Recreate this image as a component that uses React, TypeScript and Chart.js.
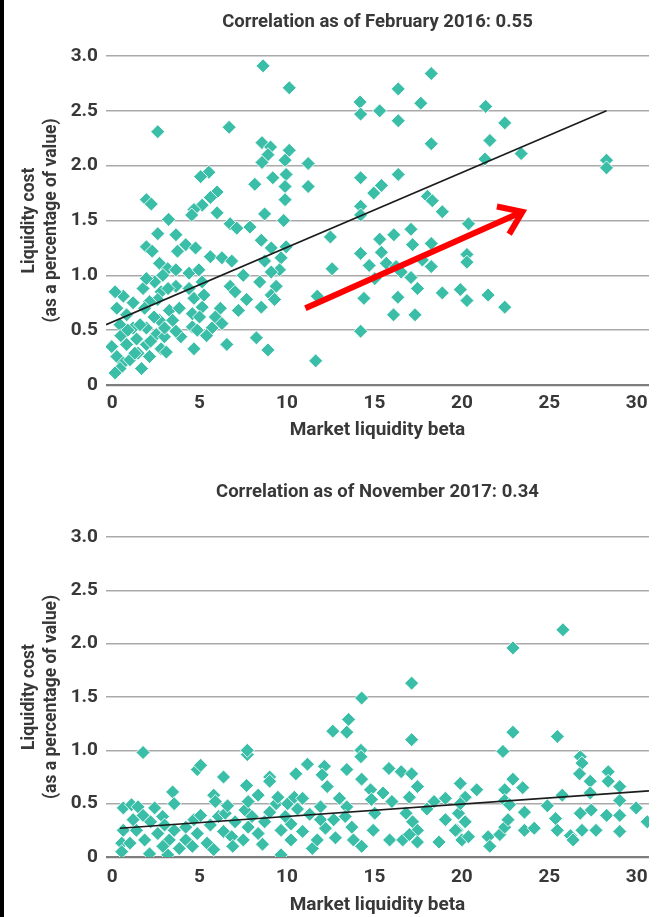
import React, { useEffect, useRef } from "react";
import { Chart, registerables } from "chart.js";

Chart.register(...registerables);

const FONT = "Roboto, 'Liberation Sans', sans-serif";
const TEXT = "#383838";
const TEAL = "#3abea7";

const TITLE_2016 = "Correlation as of February 2016: 0.55";
const TITLE_2017 = "Correlation as of November 2017: 0.34";
const X_TITLE = "Market liquidity beta";
const Y_TITLE = ["Liquidity cost", "(as a percentage of value)"];

const X_RANGE = [-0.35, 30.7];
const X_STEP = 5;
const Y_TICKS = [0, 0.5, 1, 1.5, 2, 2.5, 3];
const Y_TICK_LABELS = ["0", "0.5", "1.0", "1.5", "2.0", "2.5", "3.0"];

// February 2016: [market liquidity beta, liquidity cost]
const FEB16_POINTS: number[][] = [
  [8.63, 2.91], [10.13, 2.71], [2.61, 2.31], [6.69, 2.35], [8.57, 2.21], [9.06, 2.17], [10.13, 2.14],
  [8.91, 2.1], [8.57, 2.03], [9.89, 2.05], [5.53, 1.94], [5.06, 1.9], [9.19, 1.89], [9.95, 1.92],
  [8.16, 1.83], [9.89, 1.81], [6.0, 1.76], [5.62, 1.71], [9.89, 1.69], [1.96, 1.69], [2.24, 1.65],
  [5.15, 1.64], [4.68, 1.6], [4.55, 1.55], [3.23, 1.51], [6.0, 1.57], [8.72, 1.56], [9.81, 1.5],
  [6.75, 1.47], [7.88, 1.44],
  [2.61, 1.38], [3.65, 1.37], [1.96, 1.26], [2.29, 1.22], [3.74, 1.22], [4.21, 1.28], [4.77, 1.25],
  [2.71, 1.11], [3.18, 1.06], [3.65, 1.05], [4.4, 1.02], [4.96, 1.05], [5.62, 1.17], [6.28, 1.16],
  [6.84, 1.13], [7.13, 1.43], [8.53, 1.32], [9.1, 1.25], [9.95, 1.26], [9.66, 1.16], [9.57, 1.05],
  [8.72, 1.13], [9.1, 1.03], [7.5, 1.0], [8.44, 0.94], [9.38, 0.9], [9.1, 0.82], [8.53, 0.71],
  [9.29, 0.78], [6.75, 0.9], [7.03, 0.85], [7.69, 0.78], [7.22, 0.68], [6.19, 0.7], [5.9, 0.62],
  [5.71, 0.52], [6.28, 0.56], [6.56, 0.37], [8.25, 0.43], [8.91, 0.32], [4.68, 0.33], [4.59, 0.53],
  [4.87, 0.5], [3.93, 0.44], [3.65, 0.49], [4.68, 0.79], [4.59, 0.65], [5.15, 0.71], [5.25, 0.82],
  [4.4, 0.88], [5.15, 0.94], [3.65, 0.9], [3.27, 0.68], [2.8, 0.85], [2.43, 0.94], [1.77, 0.88],
  [1.96, 0.97], [2.61, 0.78], [2.14, 0.76], [1.86, 0.7], [1.2, 0.75], [0.64, 0.81], [0.17, 0.85],
  [0.27, 0.7], [0.83, 0.64], [0.45, 0.55], [1.2, 0.52], [1.96, 0.52], [2.71, 0.59], [2.52, 0.46],
  [2.8, 0.33], [1.96, 0.37], [2.14, 0.26], [1.48, 0.29], [0.83, 0.37], [-0.02, 0.35], [0.27, 0.26],
  [0.64, 0.2], [0.45, 0.15], [0.17, 0.11], [1.02, 0.23], [1.68, 0.15], [1.3, 0.29], [2.99, 0.44],
  [3.46, 0.59], [3.84, 0.7], [1.4, 0.42], [2.4, 0.62], [3.1, 0.3], [0.5, 0.45], [1.6, 0.55],
  [3.2, 0.88], [2.9, 1.0], [5.4, 0.45], [5.0, 0.62], [2.2, 0.4], [0.9, 0.5], [3.0, 0.52],
  [18.25, 2.84], [16.36, 2.7], [14.18, 2.58], [17.65, 2.57], [14.21, 2.47], [15.3, 2.5], [16.36, 2.41],
  [21.36, 2.54], [22.45, 2.39], [21.6, 2.23], [18.25, 2.2], [21.32, 2.06], [23.39, 2.11], [28.27, 2.05],
  [28.27, 1.98], [11.21, 2.02], [11.21, 1.81], [14.21, 1.89], [16.36, 1.92], [15.4, 1.82], [14.96, 1.75],
  [18.03, 1.72], [18.31, 1.68], [18.88, 1.58], [14.21, 1.63], [14.21, 1.55], [17.09, 1.42],
  [12.48, 1.35], [12.58, 1.06], [11.73, 0.81], [11.64, 0.22], [14.21, 0.49], [14.4, 0.79], [14.21, 1.2],
  [14.7, 1.09], [15.3, 1.33], [15.4, 1.21], [16.11, 1.37], [17.18, 1.28], [18.25, 1.29], [15.68, 1.11],
  [16.24, 1.08], [16.53, 1.03], [17.09, 0.98], [17.46, 0.88], [18.25, 1.08], [17.74, 1.14], [15.02, 0.97],
  [16.34, 0.8], [16.09, 0.64], [17.32, 0.64], [18.88, 0.84], [19.91, 0.87], [20.29, 0.77], [20.29, 1.19],
  [20.29, 1.12], [21.5, 0.82], [22.45, 0.71], [20.38, 1.47],
];

// November 2017: [market liquidity beta, liquidity cost]
const NOV17_POINTS: number[][] = [
  [1.77, 0.98], [7.73, 0.96], [7.73, 1.0], [4.87, 0.82], [5.06, 0.86], [6.37, 0.75], [7.69, 0.67],
  [8.35, 0.58], [9.01, 0.75], [9.01, 0.71], [3.46, 0.61], [3.55, 0.5], [5.81, 0.58], [5.9, 0.52],
  [0.64, 0.46], [1.11, 0.49], [1.48, 0.47], [2.43, 0.46], [1.77, 0.39], [2.89, 0.38], [0.64, 0.25],
  [1.39, 0.25], [0.55, 0.13], [1.02, 0.13], [0.55, 0.05], [2.14, 0.03], [3.18, 0.02], [1.86, 0.16],
  [2.61, 0.22], [3.27, 0.16], [3.84, 0.08], [4.21, 0.16], [3.55, 0.25], [4.21, 0.28], [4.68, 0.35],
  [5.06, 0.39], [4.87, 0.22], [4.59, 0.1], [5.43, 0.13], [5.81, 0.07], [5.62, 0.3], [6.09, 0.38],
  [6.47, 0.41], [6.37, 0.24], [6.84, 0.19], [7.03, 0.33], [7.6, 0.44], [7.78, 0.52], [7.5, 0.16],
  [7.78, 0.28], [8.35, 0.22], [8.72, 0.33], [9.01, 0.42], [9.38, 0.5], [2.2, 0.33], [3.0, 0.3],
  [1.2, 0.35], [6.6, 0.48], [8.0, 0.38], [2.9, 0.1], [6.9, 0.1], [8.6, 0.12],
  [17.13, 1.63], [14.27, 1.49], [13.52, 1.29], [12.62, 1.18], [13.42, 1.17], [17.13, 1.1], [14.23, 1.0],
  [14.23, 0.94], [11.17, 0.87], [10.51, 0.78], [12.14, 0.85], [12.01, 0.77], [13.42, 0.82], [14.27, 0.73],
  [15.83, 0.83], [16.53, 0.8], [17.13, 0.78], [17.46, 0.66], [12.3, 0.66], [14.78, 0.63], [15.49, 0.6],
  [14.83, 0.54], [17.0, 0.56], [18.41, 0.52], [19.06, 0.55], [19.91, 0.69], [13.42, 0.47], [11.92, 0.47],
  [9.48, 0.56], [10.04, 0.5], [10.42, 0.56], [10.89, 0.55], [10.23, 0.31], [10.89, 0.24], [9.66, 0.25],
  [9.66, 0.02], [10.23, 0.16], [11.45, 0.08], [11.73, 0.16], [12.2, 0.27], [11.92, 0.35], [12.67, 0.35],
  [12.77, 0.18], [13.33, 0.38], [13.71, 0.28], [13.8, 0.16], [14.27, 0.1], [15.02, 0.41], [14.93, 0.25],
  [15.87, 0.16], [16.62, 0.16], [16.81, 0.41], [17.18, 0.33], [17.46, 0.25], [17.46, 0.14], [17.0, 0.21],
  [18.69, 0.14], [19.06, 0.35], [19.81, 0.41], [19.72, 0.25], [20.0, 0.16], [10.6, 0.45], [11.3, 0.4],
  [9.9, 0.38], [13.0, 0.55], [16.0, 0.52], [18.0, 0.45],
  [25.78, 2.13], [22.92, 1.96], [22.92, 1.17], [25.46, 1.13], [22.35, 0.99], [26.77, 0.94], [26.87, 0.88],
  [26.73, 0.78], [28.37, 0.8], [28.37, 0.71], [27.34, 0.71], [29.03, 0.66], [20.85, 0.63], [22.92, 0.73],
  [22.45, 0.63], [23.48, 0.65], [22.45, 0.53], [20.19, 0.56], [19.91, 0.5], [22.73, 0.49], [23.58, 0.42],
  [24.89, 0.48], [25.74, 0.58], [27.34, 0.6], [29.03, 0.53], [29.97, 0.46], [30.6, 0.33], [26.77, 0.41],
  [27.4, 0.44], [28.28, 0.39], [29.03, 0.39], [25.36, 0.36], [20.19, 0.33], [19.63, 0.25], [20.38, 0.19],
  [21.5, 0.19], [21.6, 0.1], [22.17, 0.21], [22.45, 0.28], [22.64, 0.35], [23.58, 0.25], [24.14, 0.27],
  [25.46, 0.25], [26.21, 0.2], [26.36, 0.16], [26.87, 0.25], [27.67, 0.25], [29.03, 0.24],
];

// Fitted trend lines (endpoints)
const FEB16_FIT: number[][] = [[-0.35, 0.55], [28.27, 2.5]];
const NOV17_FIT: number[][] = [[0.45, 0.27], [30.7, 0.62]];

// Red annotation arrow (tail, head) in data units
const FEB16_ARROW: number[][] = [[11.05, 0.7], [23.46, 1.58]];

type PanelProps = {
  title: string;
  points: number[][];
  fit: number[][];
  arrow?: number[][];
  height: number;
  plotTop: number;
  plotBottom: number;
  tickPad: number;
  xTitlePad: number;
};

function Panel(props: PanelProps) {
  const ref = useRef<HTMLCanvasElement>(null);
  useEffect(() => {
    const { title, points, fit, arrow, height, plotTop, plotBottom, tickPad, xTitlePad } = props;
    const titleSize = 18.5;
    const titleLH = 1.2;
    const titleTopPad = 11;
    const titleBottomPad = plotTop - titleTopPad - titleSize * titleLH;

    const arrowPlugin = {
      id: "arrowAnnotation",
      afterDatasetsDraw(chart: any) {
        if (!arrow) return;
        const { ctx, scales } = chart;
        const xs = scales.x, ys = scales.y;
        const x0 = xs.getPixelForValue(arrow[0][0]);
        const y0 = ys.getPixelForValue(arrow[0][1]);
        const x1 = xs.getPixelForValue(arrow[1][0]);
        const y1 = ys.getPixelForValue(arrow[1][1]);
        const ang = Math.atan2(y1 - y0, x1 - x0);
        ctx.save();
        ctx.strokeStyle = "#ff0000";
        ctx.lineWidth = 6;
        ctx.lineCap = "butt";
        ctx.lineJoin = "miter";
        ctx.beginPath();
        ctx.moveTo(x0, y0);
        ctx.lineTo(x1 - 2 * Math.cos(ang), y1 - 2 * Math.sin(ang));
        ctx.stroke();
        const L = 26, spread = 0.62;
        ctx.beginPath();
        ctx.moveTo(x1 - L * Math.cos(ang - spread), y1 - L * Math.sin(ang - spread));
        ctx.lineTo(x1, y1);
        ctx.lineTo(x1 - L * Math.cos(ang + spread), y1 - L * Math.sin(ang + spread));
        ctx.stroke();
        ctx.restore();
      },
    };

    const chart = new Chart(ref.current as HTMLCanvasElement, {
      type: "scatter",
      data: {
        datasets: [
          {
            type: "line",
            data: fit.map(([x, y]) => ({ x, y })),
            borderColor: "#1c1c1c",
            borderWidth: 1.6,
            pointRadius: 0,
            order: 0,
          } as any,
          {
            type: "scatter",
            data: points.map(([x, y]) => ({ x, y })),
            pointStyle: "rectRot",
            pointRadius: 7,
            backgroundColor: TEAL,
            borderColor: "rgba(255,255,255,0.85)",
            borderWidth: 1,
            order: 1,
          } as any,
        ],
      },
      options: {
        responsive: false,
        animation: false,
        devicePixelRatio: 1,
        events: [],
        layout: { padding: 0 },
        plugins: {
          legend: { display: false },
          tooltip: { enabled: false },
          title: {
            display: true,
            fullSize: false,
            text: title,
            color: TEXT,
            font: { family: FONT, size: titleSize, weight: "bold", lineHeight: titleLH },
            padding: { top: titleTopPad, bottom: titleBottomPad },
          },
        },
        scales: {
          x: {
            type: "linear",
            min: X_RANGE[0],
            max: X_RANGE[1],
            afterFit: (s: any) => {
              s.height = height - plotBottom;
            },
            grid: { display: false, drawTicks: false },
            border: { display: false },
            ticks: {
              stepSize: X_STEP,
              includeBounds: false,
              color: TEXT,
              padding: tickPad,
              font: { family: FONT, size: 19, weight: "bold", lineHeight: 1.2 },
              callback: (v: any) => String(v),
            },
            title: {
              display: true,
              text: X_TITLE,
              color: TEXT,
              font: { family: FONT, size: 19, weight: "bold", lineHeight: 1.2 },
              padding: { top: 0, bottom: xTitlePad },
            },
          },
          y: {
            type: "linear",
            min: Y_TICKS[0],
            max: Y_TICKS[Y_TICKS.length - 1],
            afterFit: (s: any) => {
              s.width = 106;
            },
            grid: {
              drawTicks: false,
              color: (c: any) => (c.tick && c.tick.value === 0 ? "#7d7d7d" : "#a9a9a9"),
              lineWidth: (c: any) => (c.tick && c.tick.value === 0 ? 2.2 : 1.4),
            },
            border: { display: false },
            ticks: {
              stepSize: 0.5,
              color: TEXT,
              padding: 8,
              font: { family: FONT, size: 19, weight: "bold" },
              callback: (v: any) => {
                const i = Y_TICKS.indexOf(Number(v));
                return i >= 0 ? Y_TICK_LABELS[i] : "";
              },
            },
            title: {
              display: true,
              text: Y_TITLE,
              color: TEXT,
              font: { family: FONT, size: 17.5, weight: "bold", lineHeight: 1.26 },
              padding: { top: 19, bottom: 0 },
            },
          },
        },
      } as any,
      plugins: [arrowPlugin],
    });
    return () => chart.destroy();
  }, []);
  return (
    <canvas
      ref={ref}
      width={657}
      height={props.height}
      style={{ display: "block", width: 657, height: props.height }}
    />
  );
}

export default function App() {
  return (
    <div
      style={{
        position: "absolute",
        left: 0,
        top: 0,
        width: 657,
        height: 917,
        overflow: "hidden",
        background: "#ffffff",
      }}
    >
      <div style={{ position: "absolute", left: 0, top: 0, width: 657, height: 450 }}>
        <Panel
          title={TITLE_2016}
          points={FEB16_POINTS}
          fit={FEB16_FIT}
          arrow={FEB16_ARROW}
          height={450}
          plotTop={56}
          plotBottom={385}
          tickPad={7}
          xTitlePad={8.6}
        />
      </div>
      <div style={{ position: "absolute", left: 0, top: 470, width: 657, height: 447 }}>
        <Panel
          title={TITLE_2017}
          points={NOV17_POINTS}
          fit={NOV17_FIT}
          height={447}
          plotTop={67}
          plotBottom={387}
          tickPad={9.2}
          xTitlePad={0.6}
        />
      </div>
      <div style={{ position: "absolute", left: 0, top: 0, width: 4, height: 917, background: "#000" }} />
    </div>
  );
}
